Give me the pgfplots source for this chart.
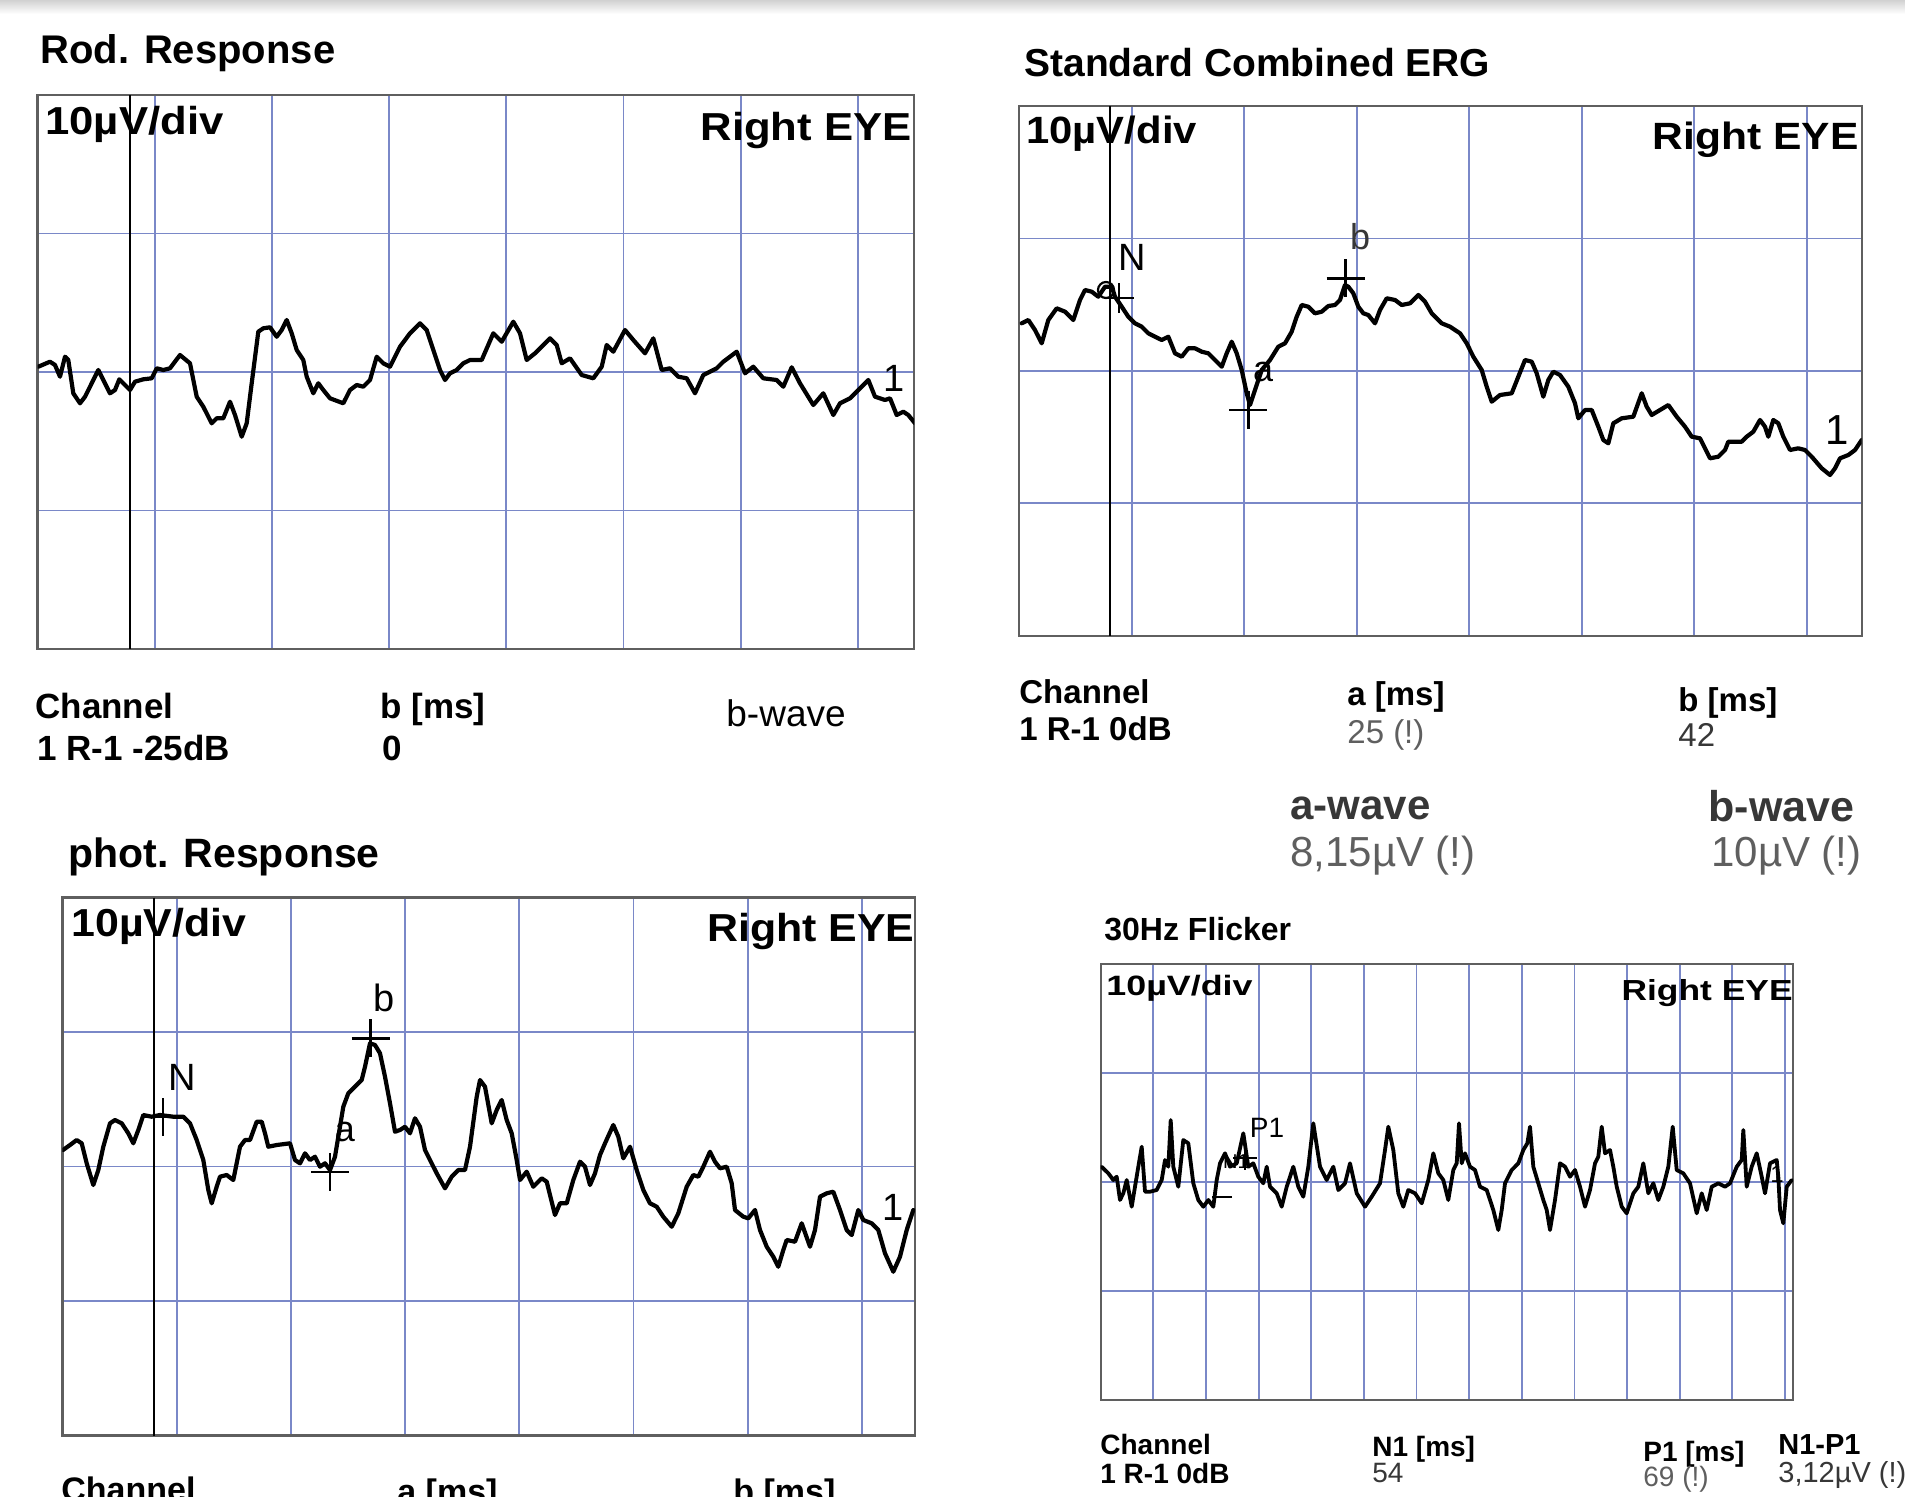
\documentclass[border=0pt]{standalone}
\usepackage{graphicx}
\usepackage{pgfplots}
\pgfplotsset{compat=1.18}
\usepackage{fontspec}
\setmainfont{Liberation Sans}
\definecolor{gridblue}{RGB}{122,136,200}
\definecolor{boxgray}{RGB}{95,95,95}
\definecolor{txtgray}{RGB}{95,95,95}
\definecolor{txtdark}{RGB}{55,55,55}
\newcommand{\fs}[1]{\fontsize{#1}{#1}\selectfont}
\pgfplotsset{
  erg/.style={scale only axis, y dir=reverse, anchor=north west,
    axis line style={draw=boxgray, line width=1.1pt},
    grid=major, major grid style={draw=gridblue, line width=0.9pt},
    xticklabels={}, yticklabels={}, major tick length=0pt, clip=true},
  trace/.style={black, line width=2.1pt, line join=round, line cap=round, mark=none},
  stim/.style={black, line width=1.4pt, mark=none},
  cross/.style={black, only marks, mark=+, mark size=9.5pt, mark options={line width=1.2pt}}
}
\begin{document}
\begin{tikzpicture}
\useasboundingbox (0pt,0pt) rectangle (952.5pt,-748.5pt);
\clip (0pt,0pt) rectangle (952.5pt,-748.5pt);
\fill[white] (0pt,0pt) rectangle (952.5pt,-748.5pt);
\shade[top color=black!18, bottom color=white] (0pt,0pt) rectangle (952.5pt,-7pt);

% ---------------- Panel 1: Rod. Response ----------------
\begin{axis}[erg, at={(18.75pt,-47.5pt)}, width=438.25pt, height=277pt,
  xmin=37.5, xmax=914, ymin=95, ymax=649,
  xtick={154.7,271.9,389.1,506.3,623.5,740.7,857.9}, ytick={233.5,372,510.5}]
\addplot[stim] coordinates {(130,95) (130,649)};
\addplot[trace] table {
x y
38.3 366.7
50 361.7
55 365
60 376.7
65 356.7
68.3 360
73.3 393.3
80 403.3
85 396.7
90 386.7
98.3 370
103.3 380
110 393.3
115 390
119.3 379.3
123.3 383.3
130 390
135 381.7
143.3 379.3
151.7 378.3
156.7 368.3
163.3 370
170 368.3
180 355
190 363.3
196.7 396.7
203.3 406.7
211.7 423.3
216.7 418.3
223.3 418.3
230 401.7
235 415
241.7 436.7
246.7 423.3
251.7 383.3
258.3 331.7
263.3 328.3
270 327.3
276.7 336.7
281.7 330
286.7 320
291.7 333.3
296.7 350
303.3 360
306.7 376.7
313.3 393.3
318.3 383.3
323.3 390
330 398.3
343.3 403.3
350 390
356.7 385
363.3 386.7
370 380
376.7 356.7
383.3 363.3
390 366.7
400 346.7
410 333.3
420 323.3
426.7 330
433.3 350
440 370
445 380
450 373.3
456.7 370
463.3 363.3
470 360
481.7 360
493.3 333.3
501.7 341.7
513.3 321.7
520 333.3
526.7 360
535 353.3
550 338.3
556.7 345
561.7 363.3
570 358.3
581.7 375
593.3 378.3
601.7 366.7
606.7 345
613.3 351.7
625 330
633.3 340
645 353.3
653.3 338.3
661.7 370
670 368.3
678.3 376.7
686.7 378.3
695 393.3
703.3 375
716.7 368.3
723.3 361.7
736.7 351.7
745 373.3
753.3 366.7
763.3 378.3
776.7 380
783.3 386.7
791.7 367.3
800 383.3
813.3 405
823.3 393.3
833.3 415
840 403.3
850 398.3
860 388.3
868.3 380
875 396.7
885 400
890 398.3
896.7 415
903.3 411.7
908.3 415
915 423.3
};
\end{axis}

% ---------------- Panel 2: Standard Combined ERG ----------------
\begin{axis}[erg, at={(509.6pt,-53pt)}, width=421.25pt, height=264.8pt,
  xmin=1019.2, xmax=1861.7, ymin=106, ymax=635.6,
  xtick={1131.7,1244.2,1356.7,1469.2,1581.7,1694.2,1806.7}, ytick={238.4,370.8,503.2}]
\addplot[stim] coordinates {(1110,106) (1110,635.6)};
\addplot[trace] table {
x y
1021.7 323.3
1028.3 320
1035 330
1041.7 343.3
1048.3 320
1056.7 308.3
1065 311.7
1073.3 320
1080 300
1085 290
1091.7 291.7
1098.3 296.7
1105 286.7
1111.7 286.7
1115 296.7
1121.7 306.7
1128.3 316.7
1135 323.3
1141.7 326.7
1148.3 333.3
1155 336.7
1161.7 340
1168.3 336.7
1175 353.3
1181.7 356.7
1188.3 348.3
1195 348.3
1201.7 351.7
1208.3 353.3
1215 360
1221.7 366.7
1226.7 353.3
1231.7 341.7
1236.7 353.3
1241.7 370
1246.7 393.3
1250 405
1255 390
1261.7 370
1270 360
1278.3 346.7
1285 343.3
1291.7 331.7
1296.7 316.7
1301.7 305
1308.3 306.7
1315 313.3
1321.7 311.7
1328.3 306
1335 305
1340 300
1345 285
1348.3 286.7
1353.3 293.3
1358.3 306.7
1363.3 313.3
1368.3 315
1375 323.3
1380 310
1386.7 298.3
1395 300
1401.7 305
1410 303.3
1418.3 295
1425 301.7
1431.7 313.3
1441.7 323.3
1450 326.7
1460 333.3
1466.7 343.3
1473.3 356.7
1481.7 370
1486.7 386.7
1491.7 401.7
1500 395
1511.7 393.3
1518.3 376.7
1525 360
1531.7 361.7
1536.7 373.3
1543.3 396.7
1548.3 380
1553.3 371.7
1560 375
1568.3 386.7
1575 403.3
1578.3 418.3
1585 410
1591.7 410
1598.3 426.7
1603.3 440
1608.3 443.3
1613.3 423.3
1621.7 418.3
1633.3 416.7
1641.7 393.3
1646.7 406.7
1651.7 415
1660 410
1668.3 405
1676.7 416.7
1685 426.7
1691.7 436.7
1700 438.3
1705 448.3
1710 458.3
1718.3 456.7
1725 450
1728.3 441.7
1735 441.7
1741.7 441.7
1746.7 436.7
1753.3 431.7
1760 420
1765 426.7
1768.3 436.7
1773.3 420
1778.3 423.3
1783.3 436.7
1790 450
1798.3 448.3
1805 450
1811.7 456.7
1821.7 468.3
1830 475
1835 468.3
1840 458.3
1848.3 455
1855 450
1861.7 440
};
\addplot[black, only marks, mark=o, mark size=4pt, mark options={line width=1.1pt}] coordinates {(1106,290)};
\addplot[cross, mark size=7.5pt] coordinates {(1119,298)};
\addplot[cross] coordinates {(1248.3,410)};
\addplot[cross] coordinates {(1345.5,278.3)};
\end{axis}

% ---------------- Panel 3: phot. Response ----------------
\begin{axis}[erg, at={(31.25pt,-448.75pt)}, width=426.25pt, height=269pt,
  xmin=62.5, xmax=915, ymin=897.5, ymax=1435.5,
  xtick={176.7,290.9,405.1,519.3,633.5,747.7,861.9}, ytick={1032,1166.5,1301}]
\addplot[stim] coordinates {(154,897.5) (154,1435.5)};
\addplot[trace] table {
x y
63 1150
70 1145
76.7 1140
81.7 1143.3
86.7 1163.3
93.3 1185
98.3 1170
103.3 1146.7
110 1123.3
115 1120
121.7 1123.3
128.3 1133.3
133.3 1143.3
138.3 1130
143.3 1115
151.7 1116.7
160 1115
173.3 1116.7
183.3 1116.7
190 1123.3
196.7 1140
203.3 1160
208.3 1190
211.7 1203.3
216.7 1186.7
220 1176.7
226.7 1175
233.3 1180
240 1146.7
245 1140
250 1140
256.7 1121.7
261.7 1121.7
265 1133.3
268.3 1146.7
276.7 1145
290 1143.3
295 1160
300 1163.3
305 1153.3
310 1160
315 1156.7
320 1166.7
325 1163.3
330 1170
335 1156.7
338.3 1136.7
343.3 1106.7
348.3 1093.3
355 1086.7
361.7 1080
365 1066.7
370 1043.3
375 1045
380 1053.3
385 1076.7
390 1103.3
395 1131.7
400 1130
405 1126.7
410 1133.3
415 1118.3
420 1126.7
425 1150
430 1160
436.7 1173.3
445 1188.3
451.7 1176.7
458.3 1170
465 1170
470 1146.7
476.7 1096.7
480 1080
485 1086.7
491.7 1123.3
496.7 1110
501.7 1100
506.7 1120
511.7 1133.3
516.7 1160
520 1180
526.7 1171.7
533.3 1186.7
541.7 1178.3
546.7 1181.7
555 1215
560 1203.3
566.7 1203.3
573.3 1180
580 1161.7
585 1166.7
590 1185
595 1173.3
600 1155
605 1143.3
613.3 1125
618.3 1136.7
623.3 1158.3
630 1146.7
636.7 1170
643.3 1190
650 1203.3
656.7 1206.7
663.3 1216.7
671.7 1226.7
678.3 1213.3
686.7 1186.7
693.3 1175
698.3 1176.7
703.3 1166.7
710 1151.7
715 1161.7
720 1168.3
726.7 1166.7
731.7 1183.3
735 1210
743.3 1216.7
748.3 1218.3
755 1210
760 1230
766.7 1246.7
773.3 1256.7
778.3 1266.7
783.3 1250
786.7 1240
795 1241.7
801.7 1223.3
810 1246.7
815 1230
820 1196.7
826.7 1193.3
833.3 1191.7
840 1210
846.7 1230
851.7 1235
858.3 1210
863.3 1220
871.7 1223.3
878.3 1230
885 1253.3
893.3 1271.7
900 1256.7
906.7 1230
913.3 1210
};
\addplot[cross] coordinates {(163,1117)};
\addplot[cross] coordinates {(330,1172)};
\addplot[cross] coordinates {(370.5,1038.3)};
\end{axis}

% ---------------- Panel 4: 30Hz Flicker ----------------
\begin{axis}[erg, at={(550.35pt,-482pt)}, width=346.15pt, height=218pt,
  xmin=1100.7, xmax=1793, ymin=964, ymax=1400,
  xtick={1153.3,1205.9,1258.6,1311.2,1363.9,1416.5,1469.1,1521.8,1574.4,1627.1,1679.7,1732.3,1785.0},
  ytick={1073,1182,1291}]
\addplot[trace, line width=1.9pt] table {
x y
1101.5 1166.7
1108.3 1173.3
1113.3 1180
1116.7 1176.7
1120 1200
1123.3 1193.3
1126.7 1180
1131.7 1206.7
1135 1186.7
1138.3 1166.7
1141.7 1146.7
1145 1191.7
1150 1191.7
1156.7 1190
1161.7 1180
1165 1160
1168.3 1166.7
1170.7 1120
1173.3 1166.7
1178.3 1186.7
1183.3 1140
1188.3 1143.3
1193.3 1183.3
1198.3 1200
1203.3 1206.7
1208.3 1200
1213.3 1206.7
1216.7 1180
1220 1163.3
1225 1153.3
1230 1166.7
1236.7 1163.3
1243.3 1133.3
1248.3 1166.7
1253.3 1163.3
1258.3 1176.7
1263.3 1183.3
1266.7 1166.7
1270 1186.7
1276.7 1193.3
1281.7 1206.7
1286.7 1186.7
1293.3 1166.7
1298.3 1186.7
1303.3 1196.7
1308.3 1166.7
1313.3 1123.3
1320 1166.7
1326.7 1180
1333.3 1166.7
1338.3 1190
1345 1183.3
1350 1163.3
1356.7 1193.3
1365 1206.7
1371.7 1196.7
1380 1183.3
1385 1150
1388.3 1126.7
1393.3 1150
1398.3 1193.3
1403.3 1206.7
1408.3 1190
1415 1193.3
1421.7 1203.3
1428.3 1180
1433.3 1153.3
1438.3 1173.3
1443.3 1180
1448.3 1200
1453.3 1170
1456.7 1163.3
1459 1123.3
1461.7 1163.3
1465 1153.3
1470 1166.7
1475 1170
1480 1186.7
1486.7 1190
1493.3 1210
1498.3 1230
1501.7 1210
1505 1183.3
1511.7 1170
1518.3 1163.3
1523.3 1150
1527.3 1143.3
1530 1126.7
1533.3 1166.7
1538.3 1183.3
1543.3 1200
1546.7 1210
1550 1230
1555 1200
1560 1163.3
1565 1166.7
1570 1176.7
1575 1170
1580 1186.7
1585 1206.7
1590 1190
1595 1163.3
1598.3 1156.7
1601.7 1126.7
1605 1153.3
1610 1150
1613.3 1166.7
1616.7 1186.7
1621.7 1206.7
1626.7 1213.3
1633.3 1193.3
1638.3 1186.7
1643.3 1163.3
1648.3 1193.3
1653.3 1183.3
1658.3 1200
1663.3 1186.7
1668.3 1166.7
1672.7 1126.7
1676.7 1170
1683.3 1173.3
1690 1183.3
1696.7 1213.3
1701.7 1193.3
1706.7 1210
1711.7 1186.7
1718.3 1183.3
1725 1186.7
1730 1183.3
1736.7 1166.7
1741.7 1160
1743.3 1130
1746.7 1186.7
1751.7 1166.7
1756.7 1153.3
1761.7 1176.7
1765 1193.3
1770 1163.3
1776.7 1160
1778.3 1176.7
1780 1210
1783.3 1223.3
1786.7 1186.7
1791.7 1180
};
\addplot[black, only marks, mark=-, mark size=5pt, mark options={line width=1.1pt}] coordinates {(1222,1197)};
\addplot[cross, mark size=6pt, mark options={line width=1pt}] coordinates {(1245,1158)};
\end{axis}

% ---------------- Texts (pixel coordinates) ----------------
\begin{scope}[x=0.5pt, y=-0.5pt, every node/.style={inner sep=0pt}]
% panel 1
\node[anchor=base west] at (40,64) {\fs{20pt}\bfseries Rod. Response};
\node[anchor=base west] at (45,135) {\fs{19.5pt}\bfseries\scalebox{1.12}[1]{10µV/div}};
\node[anchor=base east] at (912,141) {\fs{19.5pt}\bfseries\scalebox{1.12}[1]{Right EYE}};
\node at (894,378) {\fs{19pt}1};
\node[anchor=base west] at (35,718) {\fs{17.5pt}\bfseries Channel};
\node[anchor=base west] at (37,760) {\fs{17.5pt}\bfseries 1 R-1 -25dB};
\node[anchor=base west] at (380,718) {\fs{17.5pt}\bfseries b [ms]};
\node[anchor=base west] at (382,760) {\fs{17.5pt}\bfseries 0};
\node[anchor=base west] at (726,726) {\fs{18.5pt}b-wave};
% panel 2
\node[anchor=base west] at (1024,77) {\fs{19.5pt}\bfseries Standard Combined ERG};
\node[anchor=base west] at (1026,144) {\fs{19pt}\bfseries\scalebox{1.1}[1]{10µV/div}};
\node[anchor=base east] at (1859,150) {\fs{19pt}\bfseries\scalebox{1.12}[1]{Right EYE}};
\node at (1132,257) {\fs{19pt}N};
\node at (1263,372) {\fs{18pt}a};
\node[text=txtdark] at (1360,237) {\fs{18pt}b};
\node at (1837,430) {\fs{21pt}1};
\node[anchor=base west] at (1019,703) {\fs{16.5pt}\bfseries Channel};
\node[anchor=base west] at (1019,740) {\fs{16.5pt}\bfseries 1 R-1 0dB};
\node[anchor=base west] at (1347,705) {\fs{16.5pt}\bfseries a [ms]};
\node[anchor=base west, text=txtgray] at (1347,743) {\fs{16.5pt}25 (!)};
\node[anchor=base west] at (1678,711) {\fs{16.5pt}\bfseries b [ms]};
\node[anchor=base west, text=txtdark] at (1678,746) {\fs{16.5pt}42};
\node[anchor=base west, text=txtdark] at (1290,819) {\fs{21pt}\bfseries a-wave};
\node[anchor=base west, text=txtgray] at (1290,866) {\fs{21pt}8,15µV (!)};
\node[anchor=base west, text=txtdark] at (1708,821) {\fs{21.5pt}\bfseries b-wave};
\node[anchor=base west, text=txtgray] at (1711,866) {\fs{21pt}10µV (!)};
% panel 3
\node[anchor=base west] at (68,867) {\fs{20.5pt}\bfseries phot. Response};
\node[anchor=base west] at (71,936) {\fs{19.5pt}\bfseries\scalebox{1.1}[1]{10µV/div}};
\node[anchor=base east] at (915,941) {\fs{19.5pt}\bfseries\scalebox{1.1}[1]{Right EYE}};
\node at (182,1077) {\fs{19pt}N};
\node at (345,1132) {\fs{18pt}a};
\node at (384,998) {\fs{19pt}b};
\node at (893,1207) {\fs{19pt}1};
\node[anchor=base west] at (61,1501) {\fs{17pt}\bfseries Channel};
\node[anchor=base west] at (397,1503) {\fs{17pt}\bfseries a [ms]};
\node[anchor=base west] at (733,1503) {\fs{17pt}\bfseries b [ms]};
% panel 4
\node[anchor=base west] at (1104,940) {\fs{16pt}\bfseries 30Hz Flicker};
\node[anchor=base west] at (1106,995) {\fs{14pt}\bfseries\scalebox{1.28}[1]{10µV/div}};
\node[anchor=base east] at (1793,1000) {\fs{14.5pt}\bfseries\scalebox{1.22}[1]{Right EYE}};
\node at (1267,1128) {\fs{14pt}P1};
\node at (1236,1162) {\fs{10pt}N1};
\node at (1777,1174) {\fs{12pt}1};
\node[anchor=base west] at (1100,1454) {\fs{14pt}\bfseries Channel};
\node[anchor=base west] at (1100,1483) {\fs{14pt}\bfseries 1 R-1 0dB};
\node[anchor=base west] at (1372,1456) {\fs{14pt}\bfseries N1 [ms]};
\node[anchor=base west, text=txtdark] at (1372,1482) {\fs{14pt}54};
\node[anchor=base west] at (1643,1461) {\fs{14pt}\bfseries P1 [ms]};
\node[anchor=base west, text=txtgray] at (1643,1486) {\fs{14pt}69 (!)};
\node[anchor=base west] at (1778,1454) {\fs{14.5pt}\bfseries N1-P1};
\node[anchor=base west, text=txtdark] at (1778,1482) {\fs{14.5pt}3,12µV (!)};
\end{scope}
\end{tikzpicture}
\end{document}
